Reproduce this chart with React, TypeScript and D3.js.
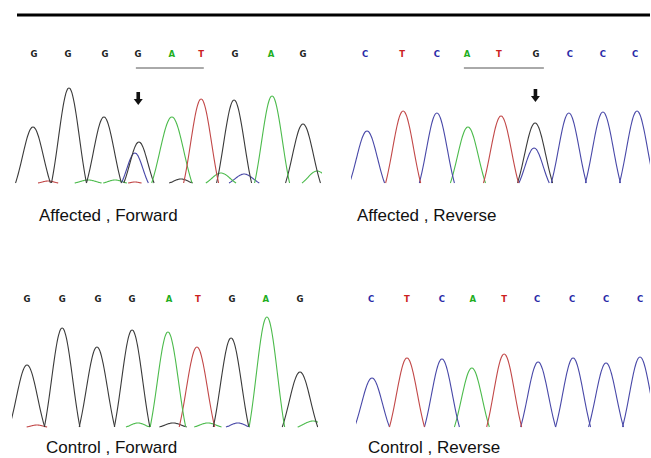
import React from "react";
import * as d3 from "d3";

// base calls shown above each trace
const affFwdBases = ["G", "G", "G", "G", "A", "T", "G", "A", "G"];
const affRevBases = ["C", "T", "C", "A", "T", "G", "C", "C", "C"];
const ctlFwdBases = ["G", "G", "G", "G", "A", "T", "G", "A", "G"];
const ctlRevBases = ["C", "T", "C", "A", "T", "C", "C", "C", "C"];

// where each call sits, in base-index units
const affFwdCallPos = [0, 1.01, 2.11, 3.09, 4.1, 4.97, 5.98, 7.05, 8];
const affRevCallPos = [0, 1.1, 2.13, 3.02, 3.97, 5.07, 6.07, 7.05, 8];
const ctlFwdCallPos = [0, 1.03, 2.08, 3.08, 4.16, 5.01, 6.01, 7.0, 8];
const ctlRevCallPos = [0, 1.07, 2.11, 3.03, 3.96, 4.94, 5.98, 6.99, 8];

// trace peaks: [base channel, position, signal height, half width]
type Peak = [string, number, number, number?];

const affFwdPeaks: Peak[] = [
  ["G", -0.03, 56], ["G", 1.04, 95], ["G", 2.08, 66], ["G", 3.12, 41, 0.45],
  ["C", 3.0, 30, 0.4], ["A", 4.1, 66, 0.6], ["T", 4.97, 84], ["G", 5.95, 83],
  ["A", 7.08, 87], ["G", 8, 59],
  ["T", 0.42, 2, 0.3], ["A", 1.61, 3, 0.4], ["A", 2.41, 3, 0.35],
  ["T", 3.0, 1, 0.2], ["G", 4.37, 4, 0.35], ["A", 5.56, 10, 0.45],
  ["C", 6.25, 9, 0.45], ["A", 8.42, 12, 0.45],
];
const affRevPeaks: Peak[] = [
  ["C", 0.06, 52], ["T", 1.13, 72], ["C", 2.13, 70], ["A", 3.05, 56],
  ["T", 4.03, 67], ["G", 5.04, 60], ["C", 5.01, 35, 0.45], ["C", 6.04, 70],
  ["C", 7.05, 71], ["C", 8.06, 72],
];
const ctlFwdPeaks: Peak[] = [
  ["G", 0, 62], ["G", 1.03, 99], ["G", 2.05, 80], ["G", 3.08, 97],
  ["A", 4.13, 95], ["T", 4.98, 80], ["G", 5.98, 89], ["A", 7.03, 110],
  ["G", 8, 55],
  ["T", 0.29, 2, 0.3], ["A", 3.25, 4, 0.35], ["G", 4.28, 4, 0.4],
  ["A", 5.3, 4, 0.4], ["C", 6.18, 4, 0.35], ["A", 8.38, 6, 0.45],
];
const ctlRevPeaks: Peak[] = [
  ["C", 0.03, 49], ["T", 1.07, 69], ["C", 2.11, 68], ["A", 3.0, 59],
  ["T", 3.96, 73], ["C", 4.97, 65], ["C", 6.01, 69], ["C", 6.99, 64],
  ["C", 8, 70],
];

const baseColor: Record<string, string> = {
  G: "#1e1e1e", A: "#1fae1f", T: "#cc1f1f", C: "#2a2aa8",
};
const traceColor: Record<string, string> = {
  G: "#3a3a3a", A: "#4cbb4c", T: "#c24848", C: "#4848a8",
};

type PanelProps = {
  label: string;
  bases: string[];
  callPos: number[];
  peaks: Peak[];
  x0: number;
  x1: number;
  clipL: number;
  clipR: number;
  letterY: number;
  baseline: number;
  labelX: number;
  labelY: number;
  underline?: [number, number];
  arrow?: [number, number];
  id: string;
};

const peakPath = (p: Peak, x: d3.ScaleLinear<number, number>, y: d3.ScaleLinear<number, number>) => {
  const hw = p[3] ?? 0.52;
  const sigma = 0.6;
  const c = Math.exp(-1 / (2 * sigma * sigma));
  const ts = d3.range(-1, 1.0001, 0.05);
  const line = d3
    .line<number>()
    .x((t) => x(p[1] + t * hw))
    .y((t) => y((p[2] * (Math.exp(-(t * t) / (2 * sigma * sigma)) - c)) / (1 - c)))
    .curve(d3.curveMonotoneX);
  return line(ts) || "";
};

const Panel = (props: PanelProps) => {
  const x = d3.scaleLinear().domain([0, 8]).range([props.x0, props.x1]);
  const y = d3.scaleLinear().domain([0, 100]).range([props.baseline, props.baseline - 100]);
  // minor bumps first, so main peaks are drawn on top
  const ordered = [...props.peaks].sort((a, b) => a[2] - b[2]);
  return (
    <g>
      <defs>
        <clipPath id={props.id}>
          <rect x={props.clipL} y={0} width={props.clipR - props.clipL} height={458} />
        </clipPath>
      </defs>
      {props.bases.map((b, i) => (
        <text
          key={i}
          x={x(props.callPos[i])}
          y={props.letterY}
          textAnchor="middle"
          fontFamily="DejaVu Sans, sans-serif"
          fontWeight="bold"
          fontSize={8.5}
          fill={baseColor[b]}
        >
          {b}
        </text>
      ))}
      {props.underline && (
        <line
          x1={x(props.underline[0])}
          x2={x(props.underline[1])}
          y1={props.letterY + 11}
          y2={props.letterY + 11}
          stroke="#555"
          strokeWidth={1}
        />
      )}
      {props.arrow && (
        <g transform={`translate(${x(props.arrow[0])},${props.arrow[1]})`} fill="#111">
          <rect x={-1.8} y={0} width={3.6} height={8} />
          <path d="M-4.5,7 L4.5,7 L0,13 Z" />
        </g>
      )}
      <g clipPath={`url(#${props.id})`}>
        {ordered.map((p, i) => (
          <path
            key={i}
            d={peakPath(p, x, y)}
            fill="none"
            stroke={traceColor[p[0]]}
            strokeWidth={1.1}
          />
        ))}
      </g>
      <text
        x={props.labelX}
        y={props.labelY}
        fontFamily="Liberation Sans, Arial, sans-serif"
        fontSize={17}
        fill="#111"
      >
        {props.label}
      </text>
    </g>
  );
};

export default function App() {
  return (
    <svg
      width={651}
      height={458}
      style={{ position: "absolute", left: 0, top: 0, background: "#fff" }}
    >
      <line x1={17} x2={650} y1={15} y2={15} stroke="#000" strokeWidth={3} />
      <Panel
        id="c1"
        label="Affected , Forward"
        bases={affFwdBases}
        callPos={affFwdCallPos}
        peaks={affFwdPeaks}
        x0={34}
        x1={303}
        clipL={15}
        clipR={322}
        letterY={57}
        baseline={183}
        labelX={39}
        labelY={221}
        underline={[3.03, 5.05]}
        arrow={[3.1, 92]}
      />
      <Panel
        id="c2"
        label="Affected , Reverse"
        bases={affRevBases}
        callPos={affRevCallPos}
        peaks={affRevPeaks}
        x0={365}
        x1={635}
        clipL={351}
        clipR={650}
        letterY={57}
        baseline={183}
        labelX={357}
        labelY={221}
        underline={[2.93, 5.3]}
        arrow={[5.05, 89]}
      />
      <Panel
        id="c3"
        label="Control , Forward"
        bases={ctlFwdBases}
        callPos={ctlFwdCallPos}
        peaks={ctlFwdPeaks}
        x0={27}
        x1={300}
        clipL={12}
        clipR={318}
        letterY={302}
        baseline={427}
        labelX={46}
        labelY={453}
      />
      <Panel
        id="c4"
        label="Control , Reverse"
        bases={ctlRevBases}
        callPos={ctlRevCallPos}
        peaks={ctlRevPeaks}
        x0={371}
        x1={640}
        clipL={356}
        clipR={650}
        letterY={302}
        baseline={427}
        labelX={368}
        labelY={453}
      />
    </svg>
  );
}
